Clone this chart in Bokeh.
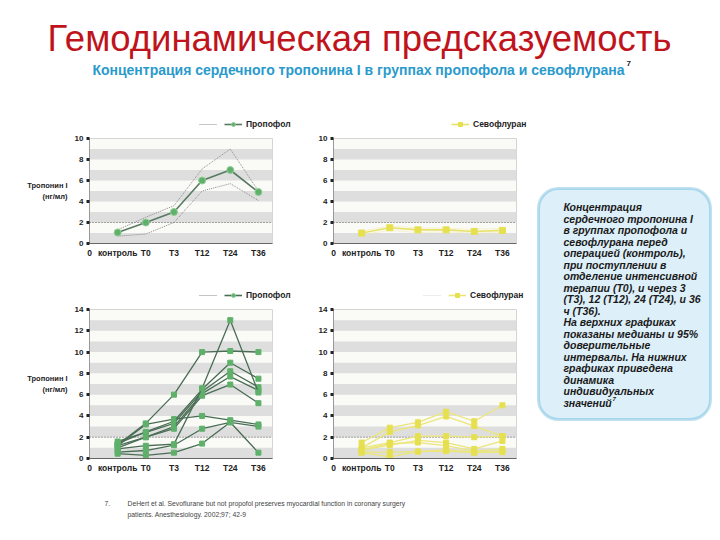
from bokeh.plotting import figure
from bokeh.models import Range1d, FixedTicker, Span, BoxAnnotation, Label, Legend, LegendItem
from bokeh.layouts import row, column
from bokeh.embed import file_html
from bokeh.resources import INLINE

FONT = "Liberation Sans"

TITLE = "Гемодинамическая предсказуемость"
SUBTITLE = "Концентрация сердечного тропонина I в группах пропофола и севофлурана"
Y_LABEL = "Тропонин I\n(нг/мл)"
CATS = ["контроль", "T0", "T3", "T12", "T24", "T36"]
THRESHOLD = 2

# upper panels: medians and 95% CI
PROP_MED = [1.05, 2.0, 3.0, 6.0, 7.0, 4.9]
PROP_UP = [1.3, 2.5, 3.6, 7.1, 9.0, 5.0]
PROP_LO = [0.7, 0.9, 2.0, 5.0, 5.7, 4.1]
SEVO_MED = [1.0, 1.5, 1.3, 1.3, 1.15, 1.25]
SEVO_UP = [1.2, 1.65, 1.5, 1.45, 1.35, 1.45]
SEVO_LO = [0.85, 1.25, 1.05, 1.1, 1.0, 1.05]

# lower panels: individual values
PROP_IND = [
    [1.3, 3.3, 6.0, 10.0, 10.1, 10.0],
    [1.2, 3.2, 3.7, 4.0, 3.6, 3.2],
    [1.4, 2.5, 3.5, 6.5, 9.0, 7.5],
    [1.6, 2.45, 3.3, 6.3, 8.2, 6.7],
    [1.2, 2.0, 3.0, 6.1, 7.7, 6.4],
    [1.0, 2.0, 2.8, 5.9, 6.95, 5.2],
    [0.9, 1.2, 1.35, 6.6, 13.0, 6.2],
    [0.6, 0.75, 1.25, 2.8, 3.4, 3.0],
    [0.45, 0.3, 0.55, 1.4, 3.4, 0.55],
]
SEVO_IND = [
    [1.5, 2.9, 3.4, 4.4, 3.5, 5.0],
    [1.0, 2.5, 3.1, 3.95, 3.05, 2.1],
    [1.0, 1.5, 2.1, 2.1, 2.0, 2.1],
    [0.8, 1.25, 1.7, 1.5, 0.9, 1.65],
    [0.8, 1.4, 1.5, 1.2, 0.7, 0.9],
    [0.6, 0.6, 0.65, 0.7, 0.55, 0.7],
    [0.55, 0.15, 0.65, 0.8, 0.6, 0.6],
]

BOX_LINES = [
    " Концентрация",
    "сердечного тропонина I",
    "в группах пропофола и",
    "севофлурана перед",
    "операцией (контроль),",
    "при поступлении в",
    "отделение интенсивной",
    "терапии (T0), и через 3",
    "(T3), 12 (T12), 24 (T24), и 36",
    "ч (T36).",
    "На верхних графиках",
    "показаны медианы и 95%",
    "доверительные",
    "интервалы. На нижних",
    "графиках приведена",
    "динамика",
    "индивидуальных",
    "значений",
]
FOOT = ["DeHert et al. Sevoflurane but not propofol preserves myocardial function in coronary surgery",
        "patients. Anesthesiology. 2002;97; 42-9"]

XS = list(range(1, len(CATS) + 1))

PROP_LINE = "#4a6d55"
PROP_MARK = "#5fb06a"
PROP_MED_LINE = "#587a62"
CI_GREY = "#8a8a8a"
SEVO_LINE = "#ece67a"
SEVO_MARK = "#e6e050"
SEVO_MED_LINE = "#e8e26a"


def panel(width, height, left, right, top, bottom, ymax, ylabel):
    p = figure(width=width, height=height, min_border_left=left, min_border_right=right,
               min_border_top=top, min_border_bottom=bottom,
               x_range=Range1d(0, 6.5), y_range=Range1d(0, ymax),
               output_backend="svg", toolbar_location=None,
               background_fill_color="#fafaf7", border_fill_color="white",
               outline_line_color="#d4d4d4")
    p.grid.visible = False
    for b in range(0, ymax, 2):
        p.add_layout(BoxAnnotation(bottom=b, top=b + 1, fill_color="#dedede", fill_alpha=1,
                                   line_color=None, level="underlay"))
    p.add_layout(Span(location=THRESHOLD, dimension="width", line_color="#555555",
                      line_dash="1 2", line_width=1, level="underlay"))
    p.yaxis.ticker = FixedTicker(ticks=list(range(0, ymax + 1, 2)))
    p.xaxis.ticker = FixedTicker(ticks=list(range(0, len(CATS) + 1)))
    ov = {0: "0"}
    for i, c in enumerate(CATS):
        ov[i + 1] = c
    p.xaxis.major_label_overrides = ov
    for ax in (p.xaxis, p.yaxis):
        ax.minor_tick_line_color = None
        ax.major_label_text_font = FONT
        ax.major_label_text_font_style = "bold"
        ax.major_label_text_color = "#222222"
    p.yaxis.major_tick_out = 3
    p.yaxis.major_tick_in = 0
    p.yaxis.major_tick_line_width = 3
    p.yaxis.major_tick_line_color = "#222222"
    p.yaxis.axis_line_color = "#999999"
    p.yaxis.major_label_standoff = 3
    p.yaxis.major_label_text_font_size = "8px"
    p.xaxis.major_tick_line_color = None
    p.xaxis.major_tick_out = 0
    p.xaxis.major_tick_in = 0
    p.xaxis.axis_line_color = "#666666"
    p.xaxis.major_label_standoff = 4
    p.xaxis.major_label_text_font_size = "8.5px"
    if ylabel:
        p.yaxis.axis_label = Y_LABEL
        p.yaxis.axis_label_orientation = "horizontal"
        p.yaxis.axis_label_text_font = FONT
        p.yaxis.axis_label_text_font_size = "7.5px"
        p.yaxis.axis_label_text_font_style = "bold"
        p.yaxis.axis_label_text_color = "#222222"
        p.yaxis.axis_label_text_align = "center"
        p.yaxis.axis_label_standoff = 4
    return p


def blank(w, h):
    f = figure(width=w, height=h, x_range=Range1d(0, w), y_range=Range1d(0, h), min_border=0,
               x_axis_location=None, y_axis_location=None, output_backend="svg",
               toolbar_location=None, outline_line_color=None, background_fill_color="white")
    f.grid.visible = False
    return f


def make_legend(f, items, vx, vy):
    lg = Legend(items=items, location=(vx, vy), orientation="horizontal",
                background_fill_alpha=0, border_line_color=None, padding=0, margin=0,
                spacing=3, glyph_width=18, glyph_height=10, label_standoff=4, label_height=10,
                label_width=0,
                label_text_font=FONT, label_text_font_size="8.5px", label_text_font_style="bold",
                label_text_color="#222222")
    f.add_layout(lg)


def legend_items(f, ys, dotted_color, line_color, marker, mark_color, mark_edge, label, with_dotted=True):
    # legend swatches: hidden copies of the series so the legend has glyphs to draw
    items = []
    if with_dotted:
        d = f.line(XS, ys, line_color=dotted_color, line_dash="1 1", line_width=1, visible=False)
        items.append(LegendItem(label=" ", renderers=[d]))
    m = f.line(XS, ys, line_color=line_color, line_width=1.6, visible=False)
    s = f.scatter(XS, ys, marker=marker, size=7, fill_color=mark_color, line_color=mark_edge, visible=False)
    items.append(LegendItem(label=label, renderers=[m, s]))
    return items


# ---- header (title, subtitle, upper legends)
HH = 132
hd = blank(720, HH)
hd.add_layout(Label(x=359, y=HH - 38, text=TITLE, text_align="center", text_baseline="middle",
                    text_font=FONT, text_font_size="36.5px", text_color="#c0141c"))
hd.add_layout(Label(x=358, y=HH - 69, text=SUBTITLE, text_align="center", text_baseline="middle",
                    text_font=FONT, text_font_size="14px", text_font_style="bold", text_color="#2a9acd"))
hd.add_layout(Label(x=626, y=HH - 63, text="7", text_align="left", text_baseline="middle",
                    text_font=FONT, text_font_size="8px", text_font_style="bold", text_color="#222222"))
make_legend(hd, legend_items(hd, PROP_MED, CI_GREY, PROP_MED_LINE, "circle", PROP_MARK, "#8fcf95",
                             "Пропофол"), 199, 3)
make_legend(hd, legend_items(hd, SEVO_MED, "#f0ecb0", SEVO_MED_LINE, "square", SEVO_MARK, SEVO_MARK,
                             "Севофлуран", with_dotted=False), 451, 3)

# ---- top-left: propofol medians
tl = panel(290, 148, 89, 18, 6, 37, 10, True)
tl.line(XS, PROP_UP, line_color=CI_GREY, line_dash="1 1", line_width=1)
tl.line(XS, PROP_LO, line_color=CI_GREY, line_dash="1 1", line_width=1)
tl.line(XS, PROP_MED, line_color=PROP_MED_LINE, line_width=1.6)
tl.scatter(XS, PROP_MED, marker="circle", size=7, fill_color=PROP_MARK, line_color="#8fcf95")

# ---- top-right: sevoflurane medians
tr = panel(240, 148, 43, 14, 6, 37, 10, False)
tr.line(XS, SEVO_UP, line_color="#f0ecb0", line_dash="1 1", line_width=1)
tr.line(XS, SEVO_LO, line_color="#f0ecb0", line_dash="1 1", line_width=1)
tr.line(XS, SEVO_MED, line_color=SEVO_MED_LINE, line_width=1.6)
tr.scatter(XS, SEVO_MED, marker="square", size=6, fill_color=SEVO_MARK, line_color=SEVO_MARK)

# ---- strip with lower legends
SH = 23
st = blank(530, SH)
make_legend(st, legend_items(st, PROP_IND[0], CI_GREY, PROP_LINE, "circle", PROP_MARK, "#8fcf95",
                             "Пропофол"), 199, 3)
make_legend(st, legend_items(st, SEVO_IND[0], "#d8d8d8", SEVO_LINE, "square", SEVO_MARK, SEVO_MARK,
                             "Севофлуран"), 423, 3)

# ---- bottom-left: propofol individual
bl = panel(290, 177, 89, 18, 6, 22, 14, True)
for ser in PROP_IND:
    bl.line(XS, ser, line_color=PROP_LINE, line_width=1.3)
    bl.scatter(XS, ser, marker="square", size=5, fill_color=PROP_MARK, line_color=PROP_MARK)

# ---- bottom-right: sevoflurane individual
br = panel(240, 177, 43, 14, 6, 22, 14, False)
for ser in SEVO_IND:
    br.line(XS, ser, line_color=SEVO_LINE, line_width=1.3)
    br.scatter(XS, ser, marker="square", size=5, fill_color=SEVO_MARK, line_color=SEVO_MARK)

# ---- text box
TBH = 348
tb = blank(190, TBH)
tb.add_layout(BoxAnnotation(left=8, right=180, bottom=TBH - 287, top=TBH - 56, border_radius=20,
                            fill_color="#ddeff8", fill_alpha=1, line_color="#2a9bd0", line_width=3))
for i, t in enumerate(BOX_LINES):
    tb.add_layout(Label(x=33, y=TBH - (74.7 + 11.5 * i), text=t, text_align="left", text_baseline="middle",
                        text_font=FONT, text_font_size="10.5px", text_font_style="bold italic",
                        text_color="#1a1a1a"))
tb.add_layout(Label(x=82, y=TBH - (74.7 + 11.5 * (len(BOX_LINES) - 1)) + 4, text="7", text_align="left",
                    text_baseline="middle", text_font=FONT, text_font_size="6px",
                    text_font_style="bold italic", text_color="#1a1a1a"))

# ---- footer
ft = blank(720, 60)
ft.add_layout(Label(x=104, y=60 - 23, text="7.", text_align="left", text_baseline="middle",
                    text_font=FONT, text_font_size="6.8px", text_color="#444444"))
for i, t in enumerate(FOOT):
    ft.add_layout(Label(x=127, y=60 - (23 + 11 * i), text=t, text_align="left", text_baseline="middle",
                        text_font=FONT, text_font_size="6.8px", text_color="#444444"))

left_part = column(row(tl, tr, spacing=0), st, row(bl, br, spacing=0), spacing=0)
layout = column(hd, row(left_part, tb, spacing=0), ft, spacing=0)
open("out.html", "w").write(file_html(layout, INLINE))
